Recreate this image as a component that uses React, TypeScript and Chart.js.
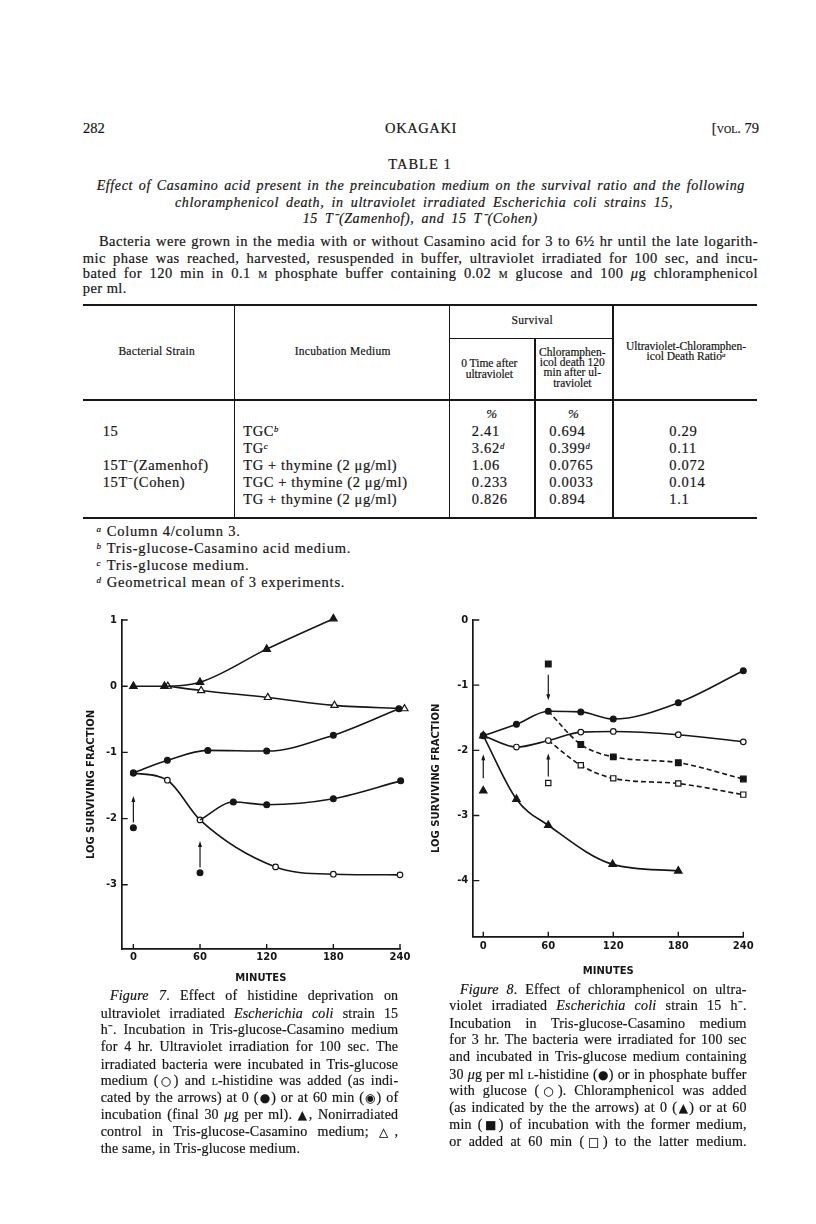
import React, { useEffect, useRef } from "react";
import { Chart, registerables } from "chart.js";
Chart.register(...registerables);

const INK = "#161616";
const SERIF = '"Liberation Serif", "Times New Roman", serif';
const SANS = '"DejaVu Sans", "Liberation Sans", sans-serif';

// ---------- Figure 7 data (minutes, log surviving fraction) ----------
const F7_X_TICKS = [0, 60, 120, 180, 240];
const F7_Y_TICKS = [1, 0, -1, -2, -3];
const F7_NONIRR_TGC: number[][] = [[0, 0], [28, 0], [60, 0.06], [120, 0.56], [180, 1.02]]; // ▲
const F7_NONIRR_TG: number[][] = [[31, 0], [61, -0.065], [121, -0.17], [181, -0.29], [244, -0.34]]; // △
const F7_HIS_AT_0: number[][] = [[0, -1.31], [30.6, -1.12], [67, -0.97], [120, -0.98], [180, -0.74], [239, -0.34]]; // ●
const F7_TG: number[][] = [[0, -1.31], [30.6, -1.42], [60, -2.02], [128, -2.73], [180, -2.84], [240, -2.85]]; // ○
const F7_HIS_AT_60: number[][] = [[60, -2.02], [90, -1.75], [120, -1.79], [180, -1.7], [240.6, -1.43]]; // ◉
const F7_ADDED: number[][] = [[0, -2.14], [60, -2.82]];
const F7_ARROWS: number[][] = [[0, -2.06, -1.66], [60, -2.74, -2.34]]; // x, from, to

// ---------- Figure 8 data ----------
const F8_X_TICKS = [0, 60, 120, 180, 240];
const F8_Y_TICKS = [0, -1, -2, -3, -4];
const F8_HIS: number[][] = [[0, -1.775], [30.6, -1.6], [60, -1.4], [90, -1.41], [120, -1.52], [180, -1.27], [240, -0.78]]; // ●
const F8_GLU: number[][] = [[0, -1.775], [30.6, -1.95], [60, -1.85], [90, -1.72], [120, -1.71], [180, -1.76], [240, -1.87]]; // ○
const F8_CAP_0: number[][] = [[0, -1.775], [30.6, -2.75], [60, -3.15], [119.4, -3.75], [180, -3.85]]; // ▲
const F8_CAP_60_HIS: number[][] = [[60, -1.4], [90, -1.91], [120, -2.1], [180, -2.19], [240, -2.44]]; // ■
const F8_CAP_60_GLU: number[][] = [[60, -1.85], [90, -2.23], [120, -2.43], [180, -2.51], [240, -2.68]]; // □
const F8_ADD_TRI: number[][] = [[0, -2.62]];
const F8_ADD_SQ_FILLED: number[][] = [[60, -0.675]];
const F8_ADD_SQ_OPEN: number[][] = [[60, -2.5]];
const F8_ARROWS: number[][] = [[0, -2.43, -2.06], [60, -0.84, -1.23], [60, -2.4, -2.05]];

// ---------- Table 1 ----------
const T_STRAIN = ["15", "", "15T⁻(Zamenhof)", "15T⁻(Cohen)", ""];
const T_MEDIUM: [string, string][] = [["TGC", "b"], ["TG", "c"], ["TG + thymine (2 μg/ml)", ""], ["TGC + thymine (2 μg/ml)", ""], ["TG + thymine (2 μg/ml)", ""]];
const T_ZERO: [string, string][] = [["2.41", ""], ["3.62", "d"], ["1.06", ""], ["0.233", ""], ["0.826", ""]];
const T_CAP: [string, string][] = [["0.694", ""], ["0.399", "d"], ["0.0765", ""], ["0.0033", ""], ["0.894", ""]];
const T_RATIO = ["0.29", "0.11", "0.072", "0.014", "1.1"];
const T_ROW_Y = [432, 448.5, 465.7, 482.7, 500];
const FOOTNOTES: [string, string][] = [["a", "Column 4/column 3."], ["b", "Tris-glucose-Casamino acid medium."], ["c", "Tris-glucose medium."], ["d", "Geometrical mean of 3 experiments."]];

type Opt = { r: number; fill: string; style?: string; dash?: number[]; hideFirst?: boolean; line?: boolean };
function series(pts: number[][], o: Opt) {
  return {
    data: pts.map(([x, y]) => ({ x, y })),
    showLine: o.line !== false,
    borderColor: INK,
    borderWidth: 1.6,
    borderDash: o.dash || [],
    cubicInterpolationMode: "monotone",
    pointStyle: o.style || "circle",
    pointRadius: o.hideFirst ? pts.map((_, i) => (i === 0 ? 0 : o.r)) : o.r,
    pointHoverRadius: o.r,
    pointBackgroundColor: o.fill,
    pointBorderColor: INK,
    pointBorderWidth: 1.2,
    clip: false,
  };
}

const innerTicks = {
  id: "innerTicks",
  afterDraw(chart: any, _a: any, opts: any) {
    const { ctx, chartArea, scales } = chart;
    ctx.save();
    ctx.strokeStyle = INK;
    ctx.lineWidth = 1.4;
    ctx.beginPath();
    for (const t of scales.x.ticks) {
      const px = scales.x.getPixelForValue(t.value);
      ctx.moveTo(px, chartArea.bottom);
      ctx.lineTo(px, chartArea.bottom - opts.xLen);
    }
    for (const t of scales.y.ticks) {
      const py = scales.y.getPixelForValue(t.value);
      ctx.moveTo(chartArea.left, py);
      ctx.lineTo(chartArea.left + opts.yLen, py);
    }
    ctx.stroke();
    ctx.restore();
  },
};

function arrowPlugin(arrows: number[][]) {
  return {
    id: "arrows",
    afterDatasetsDraw(chart: any) {
      const { ctx, scales } = chart;
      ctx.save();
      ctx.strokeStyle = INK;
      ctx.fillStyle = INK;
      ctx.lineWidth = 1.2;
      for (const [xv, from, to] of arrows) {
        const px = scales.x.getPixelForValue(xv);
        const p1 = scales.y.getPixelForValue(from);
        const p2 = scales.y.getPixelForValue(to);
        const dir = Math.sign(p2 - p1);
        const head = 6;
        ctx.beginPath();
        ctx.moveTo(px, p1);
        ctx.lineTo(px, p2 - dir * head * 0.6);
        ctx.stroke();
        ctx.beginPath();
        ctx.moveTo(px, p2);
        ctx.lineTo(px - 2, p2 - dir * head);
        ctx.lineTo(px + 2, p2 - dir * head);
        ctx.closePath();
        ctx.fill();
      }
      ctx.restore();
    },
  };
}

type AxisCfg = {
  xMin: number; xMax: number; yMin: number; yMax: number;
  xTicks: number[]; yTicks: number[];
  yW: number; xH: number; padR: number;
  xTickPad: number; yTickPad: number; yTitlePad: number; xTitlePad: number;
};

function makeOptions(a: AxisCfg) {
  const tickFont = { family: SANS, size: 10, weight: "bold" as const };
  return {
    animation: false,
    responsive: false,
    maintainAspectRatio: false,
    events: [],
    layout: { padding: { left: 0, top: 20, right: a.padR, bottom: 10 } },
    plugins: {
      legend: { display: false },
      tooltip: { enabled: false },
      innerTicks: { xLen: 5, yLen: 6 },
    },
    scales: {
      x: {
        type: "linear",
        position: "bottom",
        min: a.xMin,
        max: a.xMax,
        afterBuildTicks: (s: any) => { s.ticks = a.xTicks.map((v) => ({ value: v })); },
        afterFit: (s: any) => { s.height = a.xH; },
        grid: { display: false, drawTicks: false },
        border: { display: true, color: INK, width: 1.7 },
        ticks: { padding: a.xTickPad, color: INK, font: tickFont, callback: (v: any) => String(v), maxRotation: 0, autoSkip: false },
        title: { display: true, text: "MINUTES", color: INK, font: { family: SANS, size: 10, weight: "bold" }, padding: { top: 0, bottom: a.xTitlePad } },
      },
      y: {
        type: "linear",
        min: a.yMin,
        max: a.yMax,
        afterBuildTicks: (s: any) => { s.ticks = a.yTicks.map((v) => ({ value: v })); },
        afterFit: (s: any) => { s.width = a.yW; },
        grid: { display: false, drawTicks: false },
        border: { display: true, color: INK, width: 1.7 },
        ticks: { padding: a.yTickPad, color: INK, font: tickFont, callback: (v: any) => String(v), autoSkip: false },
        title: { display: true, text: "LOG SURVIVING FRACTION", color: INK, font: { family: SANS, size: 10, weight: "bold" }, padding: { top: a.yTitlePad, bottom: 0 } },
      },
    },
  };
}

function config7(): any {
  return {
    type: "scatter",
    data: {
      datasets: [
        series(F7_HIS_AT_0, { r: 2.9, fill: INK }),
        series(F7_HIS_AT_60, { r: 2.9, fill: INK, hideFirst: true }),
        series(F7_TG, { r: 2.8, fill: "#fff" }),
        series(F7_NONIRR_TGC, { r: 4.3, fill: INK, style: "triangle" }),
        series(F7_NONIRR_TG, { r: 4.1, fill: "#fff", style: "triangle" }),
        series(F7_ADDED, { r: 2.9, fill: INK, line: false }),
      ],
    },
    options: makeOptions({
      xMin: -10.5, xMax: 240, yMin: -3.97, yMax: 1,
      xTicks: F7_X_TICKS, yTicks: F7_Y_TICKS,
      yW: 61.7, xH: 41, padR: 30,
      xTickPad: 2, yTickPad: 4.7, yTitlePad: 25, xTitlePad: 6,
    }),
    plugins: [innerTicks, arrowPlugin(F7_ARROWS)],
  };
}

function config8(): any {
  return {
    type: "scatter",
    data: {
      datasets: [
        series(F8_HIS, { r: 2.9, fill: INK }),
        series(F8_GLU, { r: 2.8, fill: "#fff" }),
        series(F8_CAP_0, { r: 4.3, fill: INK, style: "triangle" }),
        series(F8_CAP_60_HIS, { r: 4, fill: INK, style: "rect", dash: [5, 3], hideFirst: true }),
        series(F8_CAP_60_GLU, { r: 3.7, fill: "#fff", style: "rect", dash: [5, 3], hideFirst: true }),
        series(F8_ADD_TRI, { r: 4.3, fill: INK, style: "triangle", line: false }),
        series(F8_ADD_SQ_FILLED, { r: 4, fill: INK, style: "rect", line: false }),
        series(F8_ADD_SQ_OPEN, { r: 3.7, fill: "#fff", style: "rect", line: false }),
      ],
    },
    options: makeOptions({
      xMin: -9.2, xMax: 240, yMin: -4.86, yMax: 0,
      xTicks: F8_X_TICKS, yTicks: F8_Y_TICKS,
      yW: 63.3, xH: 53.3, padR: 36.7,
      xTickPad: 4, yTickPad: 5, yTitlePad: 20, xTitlePad: 12.3,
    }),
    plugins: [innerTicks, arrowPlugin(F8_ARROWS)],
  };
}

function Fig({ left, top, width, height, make }: { left: number; top: number; width: number; height: number; make: () => any }) {
  const ref = useRef<HTMLCanvasElement>(null);
  useEffect(() => {
    const c = new Chart(ref.current as HTMLCanvasElement, make());
    return () => c.destroy();
  }, []);
  return <canvas ref={ref} width={width} height={height} style={{ position: "absolute", left, top, width, height }} />;
}

type TP = { x: number; y: number; w?: number; size?: number; align?: "left" | "center" | "right" | "justify"; italic?: boolean; ls?: number; children: React.ReactNode };
function T({ x, y, w, size = 14.5, align = "left", italic, ls = 0, children }: TP) {
  let left = x;
  let width: number | undefined;
  let textAlign: any = "left";
  if (align === "center") { left = x - 400; width = 800; textAlign = "center"; }
  else if (align === "right") { left = x - 800; width = 800; textAlign = "right"; }
  else if (align === "justify") { width = w; textAlign = "justify"; }
  return (
    <div
      style={{
        position: "absolute", left, top: y - size * 0.6, width,
        fontSize: size, lineHeight: `${size * 1.2}px`, fontFamily: SERIF,
        fontStyle: italic ? "italic" : "normal", letterSpacing: ls,
        whiteSpace: align === "justify" ? "normal" : "nowrap",
        textAlign, textAlignLast: align === "justify" ? "justify" : undefined,
        color: INK, WebkitTextStroke: "0.2px " + INK,
      }}
    >
      {children}
    </div>
  );
}

const Sup = ({ c }: { c: string }) => (c ? <span style={{ fontSize: "0.6em", fontStyle: "italic", position: "relative", top: "-0.45em" }}>{c}</span> : null);
const SC = ({ c }: { c: string }) => <span style={{ fontVariant: "small-caps" }}>{c}</span>;
const Sym = ({ c }: { c: string }) => <span style={{ fontFamily: SANS, fontSize: "0.85em", letterSpacing: 0 }}>{c}</span>;

function HLine({ x1, x2, y, t = 1.2 }: { x1: number; x2: number; y: number; t?: number }) {
  return <div style={{ position: "absolute", left: x1, top: y - t / 2, width: x2 - x1, height: t, background: INK }} />;
}
function VLine({ x, y1, y2, t = 1.1 }: { x: number; y1: number; y2: number; t?: number }) {
  return <div style={{ position: "absolute", left: x - t / 2, top: y1, width: t, height: y2 - y1, background: INK }} />;
}

const CAP7_Y = [996.7, 1014, 1030.7, 1047.3, 1065, 1081.7, 1098.3, 1115, 1132.7, 1149.3];
const CAP8_Y = [990, 1006.7, 1024, 1040.7, 1057.3, 1075, 1091.7, 1108.3, 1125, 1142.7];

export default function App() {
  const cap7: React.ReactNode[] = [
    <><i>Figure 7</i>. Effect of histidine deprivation on</>,
    <>ultraviolet irradiated <i>Escherichia coli</i> strain 15</>,
    <>h⁻. Incubation in Tris-glucose-Casamino medium</>,
    <>for 4 hr. Ultraviolet irradiation for 100 sec. The</>,
    <>irradiated bacteria were incubated in Tris-glucose</>,
    <>medium (<Sym c="○" />) and <SC c="l" />-histidine was added (as indi-</>,
    <>cated by the arrows) at 0 (<Sym c="●" />) or at 60 min (<Sym c="◉" />) of</>,
    <>incubation (final 30 <i>μ</i>g per ml). <Sym c="▲" />, Nonirradiated</>,
    <>control in Tris-glucose-Casamino medium; <Sym c="△" />,</>,
  ];
  const cap8: React.ReactNode[] = [
    <><i>Figure 8</i>. Effect of chloramphenicol on ultra-</>,
    <>violet irradiated <i>Escherichia coli</i> strain 15 h⁻.</>,
    <>Incubation in Tris-glucose-Casamino medium</>,
    <>for 3 hr. The bacteria were irradiated for 100 sec</>,
    <>and incubated in Tris-glucose medium containing</>,
    <>30 <i>μ</i>g per ml <SC c="l" />-histidine (<Sym c="●" />) or in phosphate buffer</>,
    <>with glucose (<Sym c="○" />). Chloramphenicol was added</>,
    <>(as indicated by the the arrows) at 0 (<Sym c="▲" />) or at 60</>,
    <>min (<Sym c="■" />) of incubation with the former medium,</>,
    <>or added at 60 min (<Sym c="□" />) to the latter medium.</>,
  ];

  return (
    <div style={{ position: "absolute", left: 0, top: 0, width: 816, height: 1224, background: "#fff", overflow: "hidden" }}>
      {/* running head */}
      <T x={83} y={128.3}>282</T>
      <T x={421} y={128.3} align="center" ls={0.6}>OKAGAKI</T>
      <T x={759} y={128.3} align="right">[<SC c="vol." /> 79</T>

      {/* table title */}
      <T x={420} y={165} align="center" ls={1}>TABLE 1</T>
      <T x={96.7} y={186.7} w={648.3} align="justify" italic size={14} ls={0.6}>Effect of Casamino acid present in the preincubation medium on the survival ratio and the following</T>
      <T x={175} y={203.3} w={498} align="justify" italic size={14} ls={0.6}>chloramphenicol death, in ultraviolet irradiated Escherichia coli strains 15,</T>
      <T x={302.7} y={219} w={235} align="justify" italic size={14} ls={0.6}>15 T⁻(Zamenhof), and 15 T⁻(Cohen)</T>

      <T x={99} y={241.7} w={659} align="justify" ls={0.45}>Bacteria were grown in the media with or without Casamino acid for 3 to 6½ hr until the late logarith-</T>
      <T x={82.7} y={258.3} w={675.3} align="justify" ls={0.45}>mic phase was reached, harvested, resuspended in buffer, ultraviolet irradiated for 100 sec, and incu-</T>
      <T x={82.7} y={273.3} w={675.3} align="justify" ls={0.45}>bated for 120 min in 0.1 <SC c="m" /> phosphate buffer containing 0.02 <SC c="m" /> glucose and 100 <i>μ</i>g chloramphenicol</T>
      <T x={82.7} y={288.3} ls={0.45}>per ml.</T>

      {/* table rules */}
      <HLine x1={83} x2={757} y={305} t={1.6} />
      <HLine x1={450} x2={612} y={338} t={1} />
      <HLine x1={83} x2={757} y={400} t={1.3} />
      <HLine x1={83} x2={757} y={518} t={1.6} />
      <VLine x={234.3} y1={306} y2={517} />
      <VLine x={449.3} y1={306} y2={517} />
      <VLine x={535} y1={339} y2={517} />
      <VLine x={613} y1={306} y2={517} />

      {/* table header */}
      <T x={156.7} y={352} align="center" size={11.5} ls={0.3}>Bacterial Strain</T>
      <T x={342.7} y={352} align="center" size={11.5} ls={0.3}>Incubation Medium</T>
      <T x={532.3} y={321} align="center" size={11.5} ls={0.3}>Survival</T>
      <T x={489.3} y={364} align="center" size={11.5}>0 Time after</T>
      <T x={489.3} y={374.5} align="center" size={11.5}>ultraviolet</T>
      <T x={572.3} y={352.7} align="center" size={11.5}>Chloramphen-</T>
      <T x={572.3} y={362.5} align="center" size={11.5}>icol death 120</T>
      <T x={572.3} y={373} align="center" size={11.5}>min after ul-</T>
      <T x={572.3} y={384} align="center" size={11.5}>traviolet</T>
      <T x={686} y={346.7} align="center" size={11.5}>Ultraviolet-Chloramphen-</T>
      <T x={686} y={356.7} align="center" size={11.5}>icol Death Ratio<Sup c="a" /></T>
      <T x={491.7} y={413.3} align="center" size={13} italic>%</T>
      <T x={573.3} y={413.3} align="center" size={13} italic>%</T>

      {/* table body */}
      {T_ROW_Y.map((y, i) => (
        <React.Fragment key={i}>
          <T x={102.7} y={y} size={14.5} ls={0.6}>{T_STRAIN[i]}</T>
          <T x={243.3} y={y} size={14.5} ls={0.6}>{T_MEDIUM[i][0]}<Sup c={T_MEDIUM[i][1]} /></T>
          <T x={471.7} y={y} size={14.5} ls={0.7}>{T_ZERO[i][0]}<Sup c={T_ZERO[i][1]} /></T>
          <T x={549.3} y={y} size={14.5} ls={0.7}>{T_CAP[i][0]}<Sup c={T_CAP[i][1]} /></T>
          <T x={669.3} y={y} size={14.5} ls={0.7}>{T_RATIO[i]}</T>
        </React.Fragment>
      ))}

      {/* footnotes */}
      {FOOTNOTES.map(([s, t], i) => (
        <React.Fragment key={s}>
          <T x={96.5} y={529 + i * 17} size={9} italic>{s}</T>
          <T x={106.7} y={532 + i * 17} size={14.5} ls={0.8}>{t}</T>
        </React.Fragment>
      ))}

      {/* figures */}
      <Fig left={60} top={600} width={370} height={400} make={config7} />
      <Fig left={410} top={600} width={370} height={400} make={config8} />

      {/* captions */}
      {cap7.map((c, i) => (
        <T key={i} x={i === 0 ? 110 : 100.7} y={CAP7_Y[i]} w={i === 0 ? 288.3 : 297.6} align="justify" size={14} ls={0.2}>{c}</T>
      ))}
      <T x={100.7} y={CAP7_Y[9]} size={14} ls={0.2}>the same, in Tris-glucose medium.</T>
      {cap8.map((c, i) => (
        <T key={i} x={i === 0 ? 460 : 449.3} y={CAP8_Y[i]} w={i === 0 ? 286.7 : 297.4} align="justify" size={14} ls={0.2}>{c}</T>
      ))}
    </div>
  );
}
